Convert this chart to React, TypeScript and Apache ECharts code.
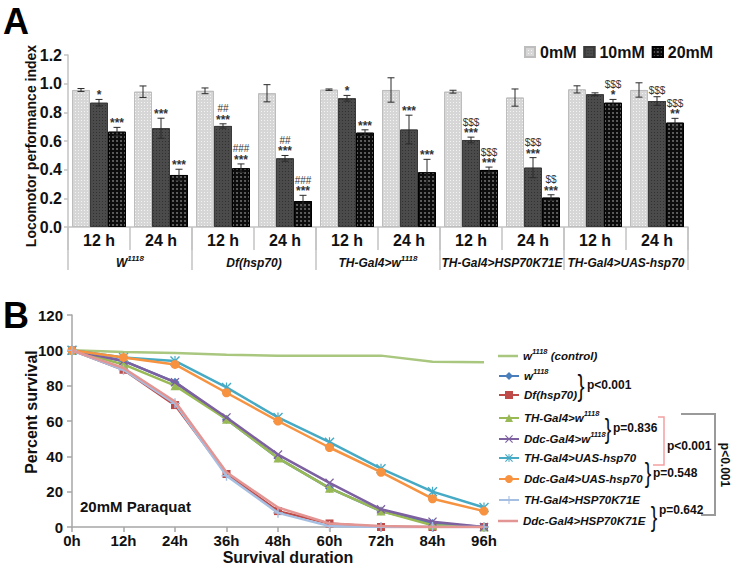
import React, { useEffect, useRef } from 'react';
import * as echarts from 'echarts';

const FONT = '"Liberation Sans", Arial, sans-serif';

// ---------- Panel A data ----------
const timeLabels = ['12 h', '24 h', '12 h', '24 h', '12 h', '24 h', '12 h', '24 h', '12 h', '24 h'];
const groupLabels = ['{i|W}{s|1118}', '{i|Df(hsp70)}', '{i|TH-Gal4>w}{s|1118}', '{i|TH-Gal4>HSP70K71E}', '{i|TH-Gal4>UAS-hsp70}'];
const concNames = ['0mM', '10mM', '20mM'];
const v0 = [0.956, 0.944, 0.95, 0.933, 0.958, 0.956, 0.944, 0.903, 0.96, 0.956];
const e0 = [0.01, 0.04, 0.02, 0.06, 0.005, 0.085, 0.01, 0.06, 0.025, 0.05];
const v10 = [0.867, 0.689, 0.705, 0.479, 0.898, 0.68, 0.607, 0.414, 0.926, 0.879];
const e10 = [0.023, 0.07, 0.015, 0.02, 0.02, 0.1, 0.02, 0.07, 0.01, 0.03];
const v20 = [0.665, 0.363, 0.41, 0.181, 0.658, 0.382, 0.398, 0.205, 0.867, 0.728];
const e20 = [0.03, 0.04, 0.03, 0.04, 0.02, 0.09, 0.02, 0.02, 0.023, 0.03];
const sig0: string[][] = [[], [], [], [], [], [], [], [], [], []];
const sig10: string[][] = [['*'], ['***'], ['##', '***'], ['##', '***'], ['*'], ['***'], ['$$$', '***'], ['$$$', '***'], [], ['$$$']];
const sig20: string[][] = [['***'], ['***'], ['###', '***'], ['###', '***'], ['***'], ['***'], ['$$$', '***'], ['$$', '***'], ['$$$', '*'], ['$$$', '**']];

// ---------- Panel B data ----------
const hours = ['0h', '12h', '24h', '36h', '48h', '60h', '72h', '84h', '96h'];
const sControl = [100, 99, 98.5, 97.5, 97, 97, 97, 93.5, 93.2];
const sW1118 = [100, 94, 82, 61, 39, 22, 9, 2, 0];
const sDf = [100, 89, 69, 30, 9, 2, 0, 0, 0];
const sThW = [100, 92, 80, 61, 39, 22, 9, 1, 0];
const sDdcW = [100, 94, 82, 62, 41, 25, 10, 3, 0];
const sThUas = [100, 96, 94, 79, 62, 48, 33, 20, 11];
const sDdcUas = [100, 96, 92, 76, 60, 45, 31, 16, 9];
const sThK = [100, 89, 70, 29, 8, 0.5, 0, 0, 0];
const sDdcK = [100, 90, 71, 31, 11, 2, 0.5, 0, 0];

const seriesNames = ['w1118 (control)', 'w1118', 'Df(hsp70)', 'TH-Gal4>w1118', 'Ddc-Gal4>w1118', 'TH-Gal4>UAS-hsp70', 'Ddc-Gal4>UAS-hsp70', 'TH-Gal4>HSP70K71E', 'Ddc-Gal4>HSP70K71E'];
const legendRich: Record<string, string> = {
  'w1118 (control)': '{i|w}{s|1118}{i| (control)}',
  'w1118': '{i|w}{s|1118}',
  'Df(hsp70)': '{i|Df(hsp70)}',
  'TH-Gal4>w1118': '{i|TH-Gal4>w}{s|1118}',
  'Ddc-Gal4>w1118': '{i|Ddc-Gal4>w}{s|1118}',
  'TH-Gal4>UAS-hsp70': '{i|TH-Gal4>UAS-hsp70}',
  'Ddc-Gal4>UAS-hsp70': '{i|Ddc-Gal4>UAS-hsp70}',
  'TH-Gal4>HSP70K71E': '{i|TH-Gal4>HSP70K71E}',
  'Ddc-Gal4>HSP70K71E': '{i|Ddc-Gal4>HSP70K71E}',
};
const legendRowY = [356, 376, 398, 418, 439, 461, 482, 503, 524];

const X_SYM = 'path://M0,1L1,0L5,4L9,0L10,1L6,5L10,9L9,10L5,6L1,10L0,9L4,5Z';
const AST_SYM = 'path://M0,1L1,0L5,4L9,0L10,1L6,5L10,9L9,10L5,6L1,10L0,9L4,5Z M4.4,0L5.6,0L5.6,10L4.4,10Z';
const PLUS_SYM = 'path://M4.3,0L5.7,0L5.7,4.3L10,4.3L10,5.7L5.7,5.7L5.7,10L4.3,10L4.3,5.7L0,5.7L0,4.3L4.3,4.3Z';
const LINE_ICON = 'path://M0,0L0.05,0L0,0.05Z M0,3.8L20,3.8L20,6.2L0,6.2Z M20,10L19.95,10L20,9.95Z';

const lineDefs = [
  { data: sControl, color: '#a9c77f', symbol: 'none', size: 0 },
  { data: sW1118, color: '#4a7ebb', symbol: 'diamond', size: 9 },
  { data: sDf, color: '#be4b48', symbol: 'rect', size: 8 },
  { data: sThW, color: '#98b954', symbol: 'triangle', size: 9 },
  { data: sDdcW, color: '#7d60a0', symbol: X_SYM, size: 9 },
  { data: sThUas, color: '#46aac5', symbol: AST_SYM, size: 10 },
  { data: sDdcUas, color: '#f69240', symbol: 'circle', size: 9 },
  { data: sThK, color: '#a5bfe2', symbol: PLUS_SYM, size: 10 },
  { data: sDdcK, color: '#e39593', symbol: 'none', size: 0 },
];

const BAR_W = 18;

function errSeries(vals: number[], errs: number[], sigs: string[][], slot: number) {
  return {
    type: 'custom',
    xAxisIndex: 0,
    yAxisIndex: 0,
    z: 5,
    silent: true,
    data: vals.map((v, i) => [i, v, errs[i]]),
    encode: { x: 0, y: 1 },
    renderItem: (params: any, api: any) => {
      const i = api.value(0);
      const v = api.value(1);
      const e = api.value(2);
      const c = api.coord([i, v]);
      const x = c[0] + slot * BAR_W;
      const yT = api.coord([i, v + e])[1];
      const yB = api.coord([i, v - e])[1];
      const ls = { stroke: '#2a2a2a', lineWidth: 1 };
      const ch: any[] = [
        { type: 'line', shape: { x1: x, y1: yT, x2: x, y2: yB }, style: ls },
        { type: 'line', shape: { x1: x - 3.5, y1: yT, x2: x + 3.5, y2: yT }, style: ls },
        { type: 'line', shape: { x1: x - 3.5, y1: yB, x2: x + 3.5, y2: yB }, style: ls },
      ];
      const lines = sigs[params.dataIndex] || [];
      const n = lines.length;
      lines.forEach((t, j) => {
        const isStar = t.indexOf('*') >= 0;
        ch.push({
          type: 'text',
          style: {
            text: t, x, y: yT - 1 - (n - 1 - j) * 9 + (isStar ? 3 : 0), align: 'center', verticalAlign: 'bottom',
            fontSize: isStar ? 12 : 10, fontWeight: isStar ? 'bold' : 'normal', fontFamily: FONT, fill: '#333',
          },
        });
      });
      return { type: 'group', children: ch };
    },
  };
}

const boldText = (text: string, x: number, y: number, size: number, extra: any = {}) => ({
  type: 'text',
  x, y,
  ...extra,
  style: {
    text, x: 0, y: 0,
    fontSize: size, fontWeight: 'bold', fontFamily: FONT, fill: '#111',
    align: extra.align || 'left', verticalAlign: 'middle',
  },
});

const brace = (x: number, y: number, size: number) => ({
  type: 'text',
  x, y, scaleX: 0.7,
  style: { text: '}', x: 0, y: 0, fontSize: size, fontFamily: FONT, fill: '#111', align: 'center', verticalAlign: 'middle' },
});

export default function App() {
  const ref = useRef<HTMLDivElement>(null);
  useEffect(() => {
    document.body.style.margin = '0';
    if (!ref.current) return;
    const chart = echarts.init(ref.current, null, { renderer: 'svg' });

    const supRichA = {
      i: { fontStyle: 'italic', fontWeight: 'bold', fontSize: 12, fontFamily: FONT, color: '#111', lineHeight: 18 },
      s: { fontStyle: 'italic', fontWeight: 'bold', fontSize: 8, fontFamily: FONT, color: '#111', verticalAlign: 'top', lineHeight: 8 },
    };
    const supRichB = {
      i: { fontStyle: 'italic', fontWeight: 'bold', fontSize: 11.5, fontFamily: FONT, color: '#111', lineHeight: 18 },
      s: { fontStyle: 'italic', fontWeight: 'bold', fontSize: 7.5, fontFamily: FONT, color: '#111', verticalAlign: 'top', lineHeight: 8 },
    };

    const barStyles = [
      { color: '#d6d6d6', borderColor: '#bdbdbd', borderWidth: 1, decal: { symbol: 'rect', symbolSize: 1, dashArrayX: [1, 2], dashArrayY: [1, 2], color: 'rgba(255,255,255,0.7)' } },
      { color: '#4b4b4b', borderColor: '#3a3a3a', borderWidth: 1, decal: { symbol: 'rect', symbolSize: 1, dashArrayX: [1, 2], dashArrayY: [1, 2], color: 'rgba(0,0,0,0.35)' } },
      { color: '#0c0c0c', borderColor: '#000', borderWidth: 1, decal: { symbol: 'circle', symbolSize: 0.8, dashArrayX: [2, 2], dashArrayY: [2, 2], color: 'rgba(255,255,255,0.5)' } },
    ];
    const vals = [v0, v10, v20];
    const errs = [e0, e10, e20];
    const sigs = [sig0, sig10, sig20];

    const barSeries = concNames.map((n, k) => ({
      name: n,
      type: 'bar',
      xAxisIndex: 0,
      yAxisIndex: 0,
      barWidth: BAR_W,
      barGap: '0%',
      data: vals[k],
      itemStyle: barStyles[k],
    }));
    const errorSeries = concNames.map((n, k) => errSeries(vals[k], errs[k], sigs[k], k - 1));

    const lineSeries = lineDefs.map((d, k) => ({
      name: seriesNames[k],
      type: 'line',
      xAxisIndex: 2,
      yAxisIndex: 1,
      data: d.data,
      symbol: d.symbol,
      symbolSize: d.size,
      showSymbol: d.symbol !== 'none',
      lineStyle: { color: d.color, width: 2.5 },
      itemStyle: { color: d.color },
      z: 3 + k * 0.01,
    }));

    const legendsB = seriesNames.map((n, k) => ({
      data: [lineDefs[k].symbol === 'none' ? { name: n, icon: LINE_ICON } : { name: n }],
      left: 498,
      top: legendRowY[k] - 9,
      padding: 0,
      itemWidth: 20,
      itemHeight: 10,
      selectedMode: false,
      formatter: (name: string) => legendRich[name],
      textStyle: { rich: supRichB, fontSize: 11.5, fontWeight: 'bold', fontStyle: 'italic', fontFamily: FONT, color: '#111' },
    }));

    const axisGrayA = '#c3c3c3';
    const axisGrayB = '#a6a6a6';

    const option: any = {
      animation: false,
      textStyle: { fontFamily: FONT },
      grid: [
        { left: 68, right: 46, top: 55, height: 172 },
        { left: 72, right: 250, top: 315, height: 212 },
      ],
      legend: [
        {
          data: concNames, left: 524, top: 44, padding: 0, itemWidth: 10, itemHeight: 10, itemGap: 7,
          icon: 'rect', selectedMode: false,
          textStyle: { fontSize: 16, fontWeight: 'bold', fontFamily: FONT, color: '#111' },
        },
        ...legendsB,
      ],
      xAxis: [
        {
          type: 'category', gridIndex: 0, data: timeLabels,
          axisLine: { show: true, lineStyle: { color: axisGrayA, width: 1.5 } },
          axisTick: { show: true, interval: 0, length: 23, lineStyle: { color: axisGrayA, width: 1.5 } },
          axisLabel: { interval: 0, margin: 5, fontSize: 16, fontWeight: 'bold', color: '#111', fontFamily: FONT },
        },
        {
          type: 'category', gridIndex: 0, position: 'bottom', data: groupLabels,
          axisLine: { show: false },
          axisTick: { show: true, interval: 0, length: 43, lineStyle: { color: axisGrayA, width: 1.5 } },
          axisLabel: { interval: 0, margin: 27, rich: supRichA, color: '#111' },
        },
        {
          type: 'category', gridIndex: 1, data: hours, boundaryGap: false,
          axisLine: { show: true, lineStyle: { color: axisGrayB, width: 1.5 } },
          axisTick: { show: true, length: 5, lineStyle: { color: axisGrayB, width: 1.5 } },
          axisLabel: { margin: 6, fontSize: 15, fontWeight: 'bold', color: '#111', fontFamily: FONT },
        },
      ],
      yAxis: [
        {
          type: 'value', gridIndex: 0, min: 0, max: 1.2, interval: 0.2,
          splitLine: { show: false },
          axisLine: { show: true, lineStyle: { color: axisGrayA, width: 1.5 } },
          axisTick: { show: true, length: 4, lineStyle: { color: axisGrayA, width: 1.5 } },
          axisLabel: { margin: 6, fontSize: 16, fontWeight: 'bold', color: '#111', fontFamily: FONT, formatter: (v: number) => v.toFixed(1) },
        },
        {
          type: 'value', gridIndex: 1, min: 0, max: 120, interval: 20,
          splitLine: { show: false },
          axisLine: { show: true, lineStyle: { color: axisGrayB, width: 1.5 } },
          axisTick: { show: true, length: 5, lineStyle: { color: axisGrayB, width: 1.5 } },
          axisLabel: { margin: 9, fontSize: 15, fontWeight: 'bold', color: '#111', fontFamily: FONT },
        },
      ],
      series: [...barSeries, ...errorSeries, ...lineSeries],
      graphic: [
        { type: 'text', x: 3, y: 3, style: { text: 'A', fontSize: 36, fontWeight: 'bold', fontFamily: FONT, fill: '#000', verticalAlign: 'top' } },
        { type: 'text', x: 3, y: 297, style: { text: 'B', fontSize: 36, fontWeight: 'bold', fontFamily: FONT, fill: '#000', verticalAlign: 'top' } },
        boldText('Locomotor performance index', 31, 146, 14, { rotation: Math.PI / 2, align: 'center' }),
        boldText('Percent survival', 31, 412, 16, { rotation: Math.PI / 2, align: 'center' }),
        boldText('Survival duration', 288, 557, 16, { align: 'center' }),
        boldText('20mM Paraquat', 80, 506, 15),
        brace(581, 386, 30),
        boldText('p<0.001', 587, 385, 12),
        brace(608, 428, 28),
        boldText('p=0.836', 613, 428, 12),
        brace(648, 472, 28),
        boldText('p=0.548', 653, 473, 12),
        brace(654, 516, 28),
        boldText('p=0.642', 659, 510, 12),
        {
          type: 'polyline',
          shape: { points: [[658, 417], [664, 417], [664, 465], [653, 465]] },
          style: { stroke: '#f2a0a0', lineWidth: 1.5, fill: 'none' },
        },
        boldText('p<0.001', 667, 446, 12),
        {
          type: 'polyline',
          shape: { points: [[681, 414], [715, 414], [715, 515], [701, 515]] },
          style: { stroke: '#9a9a9a', lineWidth: 2, fill: 'none' },
        },
        boldText('p<0.001', 725, 465, 12, { rotation: -Math.PI / 2, align: 'center' }),
      ],
    };

    chart.setOption(option);
    return () => chart.dispose();
  }, []);

  return <div ref={ref} style={{ width: 734, height: 568 }} />;
}
